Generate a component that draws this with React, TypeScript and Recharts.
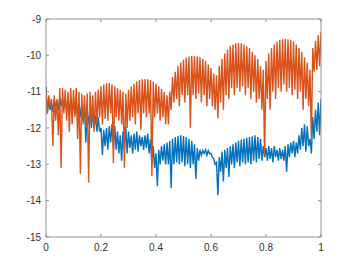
import React from "react";
import { LineChart, Line, XAxis, YAxis } from "recharts";

// x positions: peaks at i/100, troughs at i/100 + 0.005
const orangeTop = [
  -11.0, -11.1, -11.2, -11.1, -11.2, -10.9, -10.9, -10.95, -11.0, -10.9,
  -10.95, -10.9, -11.0, -11.05, -11.1, -11.05, -11.0, -11.1, -11.0, -10.95,
  -10.85, -10.8, -10.77, -10.76, -10.8, -10.85, -10.9, -10.95, -11.0, -11.05,
  -10.95, -10.85, -10.78, -10.72, -10.68, -10.66, -10.65, -10.66, -10.68, -10.72,
  -10.78, -10.85, -10.92, -11.0, -11.1, -11.0, -10.6, -10.45, -10.3, -10.2,
  -10.12, -10.07, -10.04, -10.02, -10.02, -10.03, -10.05, -10.1, -10.15, -10.25,
  -10.35, -10.5, -10.55, -10.3, -10.1, -9.95, -9.85, -9.75, -9.7, -9.67,
  -9.66, -9.67, -9.7, -9.75, -9.8, -9.9, -10.0, -10.1, -10.3, -10.4,
  -10.15, -9.95, -9.8, -9.7, -9.63, -9.58, -9.56, -9.55, -9.56, -9.58,
  -9.62, -9.7, -9.8, -9.9, -10.05, -10.2, -10.4, -9.8, -9.6, -9.45,
];
const orangeBottom = [
  -11.6, -11.4, -12.5, -11.8, -12.2, -13.1, -11.6, -11.8, -12.1, -11.9,
  -11.7, -12.3, -13.26, -11.9, -12.0, -13.5, -11.9, -12.1, -11.9, -11.7,
  -11.9, -11.75, -11.8, -11.6, -12.97, -11.7, -11.8, -11.9, -13.1, -12.0,
  -11.8, -11.7, -11.9, -11.6, -12.05, -11.6, -11.7, -11.6, -13.33, -11.7,
  -11.6, -11.8, -11.7, -11.9, -11.9, -11.5, -11.3, -11.2, -11.4, -11.1,
  -11.3, -11.1, -11.99, -11.1, -11.2, -11.05, -11.3, -11.1, -11.4, -11.2,
  -11.4, -11.5, -11.73, -11.3, -11.5, -11.1, -11.2, -10.9, -11.1, -10.9,
  -11.0, -10.85, -11.1, -10.9, -11.2, -11.0, -11.3, -11.2, -11.5, -12.76,
  -11.2, -11.5, -11.0, -11.2, -10.9, -11.0, -10.8, -11.0, -10.9, -11.1,
  -10.95, -11.2, -11.0, -11.5, -11.2, -11.4, -12.32, -10.45, -10.4, -10.3,
];
const orangeEnd = -9.35;

const blueTop = [
  -10.86, -11.2, -11.3, -11.2, -11.25, -11.15, -11.2, -11.2, -11.25, -11.2,
  -11.3, -11.25, -11.3, -11.35, -11.4, -11.5, -11.55, -11.6, -11.65, -11.7,
  -12.0, -12.05, -12.0, -11.95, -11.9, -11.95, -12.1, -12.2, -12.1, -11.95,
  -12.1, -12.2, -12.15, -12.1, -12.2, -12.25, -12.2, -12.15, -12.3, -12.5,
  -12.7, -12.6, -12.5, -12.45, -12.4, -12.35, -12.3, -12.25, -12.22, -12.2,
  -12.22, -12.25, -12.3, -12.35, -12.45, -12.55, -12.6, -12.62, -12.6, -12.62,
  -12.7, -12.85, -12.95, -12.8, -12.65, -12.6, -12.55, -12.5, -12.45, -12.4,
  -12.35, -12.32, -12.3, -12.27, -12.25, -12.23, -12.2, -12.25, -12.3, -12.5,
  -12.55, -12.5, -12.55, -12.5, -12.6, -12.55, -12.6, -12.5, -12.45, -12.4,
  -12.35, -12.4, -12.2, -12.0, -11.9, -11.95, -12.3, -11.7, -11.5, -11.3,
];
const blueBottom = [
  -11.6, -11.5, -11.55, -11.45, -11.5, -11.4, -11.45, -11.5, -11.5, -11.55,
  -11.6, -11.65, -11.7, -11.8, -12.4, -11.9, -12.0, -12.0, -12.1, -12.1,
  -12.74, -12.5, -12.6, -12.4, -12.55, -12.6, -12.7, -12.9, -12.6, -12.7,
  -12.55, -12.7, -12.6, -12.65, -12.5, -12.6, -12.55, -12.7, -13.0, -13.1,
  -13.6, -13.0, -12.9, -13.0, -13.0, -13.65, -13.0, -12.95, -13.0, -12.95,
  -13.05, -13.0, -13.1, -13.0, -13.4, -12.9, -12.75, -12.7, -12.75, -12.7,
  -12.8, -13.0, -13.85, -13.2, -13.47, -13.1, -13.35, -13.0, -13.1, -12.95,
  -13.05, -12.95, -13.0, -12.95, -13.0, -12.9, -12.95, -12.85, -12.9, -12.8,
  -12.9, -12.85, -12.95, -12.8, -12.9, -12.85, -12.9, -13.2, -12.8, -12.7,
  -12.8, -12.7, -12.6, -12.5, -12.65, -12.5, -12.7, -12.3, -12.1, -12.2,
];
const blueEnd = -11.2;

const xTicks = [0, 0.2, 0.4, 0.6, 0.8, 1];
const yTicks = [-15, -14, -13, -12, -11, -10, -9];

const data: { x: number; o: number; b: number }[] = [];
for (let i = 0; i < orangeTop.length; i++) {
  data.push({ x: i / 100, o: orangeTop[i], b: blueTop[i] });
  data.push({ x: i / 100 + 0.005, o: orangeBottom[i], b: blueBottom[i] });
}
data.push({ x: 1, o: orangeEnd, b: blueEnd });

const AX = "#8a8a8a";
const TXT = "#303030";
const FONT = "'Liberation Sans', Arial, Helvetica, sans-serif";
const TL = 3;

const BottomTick = (p: any) => (
  <g>
    <line x1={p.x} x2={p.x} y1={p.y} y2={p.y - TL} stroke={AX} strokeWidth={0.9} />
    <text x={p.x} y={p.y + 14} textAnchor="middle" fill={TXT} fontSize={10} fontFamily={FONT}>
      {String(p.payload.value)}
    </text>
  </g>
);
const TopTick = (p: any) => (
  <line x1={p.x} x2={p.x} y1={p.y} y2={p.y + TL} stroke={AX} strokeWidth={0.9} />
);
const LeftTick = (p: any) => (
  <g>
    <line x1={p.x} x2={p.x + TL} y1={p.y} y2={p.y} stroke={AX} strokeWidth={0.9} />
    <text x={p.x - 5} y={p.y + 3.5} textAnchor="end" fill={TXT} fontSize={10} fontFamily={FONT}>
      {String(p.payload.value)}
    </text>
  </g>
);
const RightTick = (p: any) => (
  <line x1={p.x} x2={p.x - TL} y1={p.y} y2={p.y} stroke={AX} strokeWidth={0.9} />
);

export default function App() {
  return (
    <div style={{ width: 346, height: 258, background: "#fff" }}>
      <LineChart
        width={346}
        height={258}
        data={data}
        margin={{ top: 10, right: 32, bottom: 28, left: 0 }}
      >
        <XAxis
          xAxisId="b"
          dataKey="x"
          type="number"
          domain={[0, 1]}
          ticks={xTicks}
          tickSize={0}
          tickMargin={0}
          height={1}
          tick={<BottomTick />}
          tickLine={false}
          axisLine={{ stroke: AX, strokeWidth: 0.9 }}
          allowDataOverflow
        />
        <XAxis
          xAxisId="t"
          orientation="top"
          dataKey="x"
          type="number"
          domain={[0, 1]}
          ticks={xTicks}
          tickSize={0}
          tickMargin={0}
          height={1}
          tick={<TopTick />}
          tickLine={false}
          axisLine={{ stroke: AX, strokeWidth: 0.9 }}
        />
        <YAxis
          yAxisId="l"
          type="number"
          domain={[-15, -9]}
          ticks={yTicks}
          tickSize={0}
          tickMargin={0}
          width={38}
          tick={<LeftTick />}
          tickLine={false}
          axisLine={{ stroke: AX, strokeWidth: 0.9 }}
          allowDataOverflow
        />
        <YAxis
          yAxisId="r"
          orientation="right"
          type="number"
          domain={[-15, -9]}
          ticks={yTicks}
          tickSize={0}
          tickMargin={0}
          width={1}
          tick={<RightTick />}
          tickLine={false}
          axisLine={{ stroke: AX, strokeWidth: 0.9 }}
        />
        <Line
          xAxisId="b"
          yAxisId="l"
          dataKey="b"
          type="linear"
          stroke="#0072BD"
          strokeWidth={1.4}
          dot={false}
          isAnimationActive={false}
        />
        <Line
          xAxisId="b"
          yAxisId="l"
          dataKey="o"
          type="linear"
          stroke="#D95319"
          strokeWidth={1.4}
          dot={false}
          isAnimationActive={false}
        />
        <Line
          xAxisId="t"
          yAxisId="r"
          dataKey="o"
          stroke="none"
          dot={false}
          activeDot={false}
          isAnimationActive={false}
        />
      </LineChart>
    </div>
  );
}
